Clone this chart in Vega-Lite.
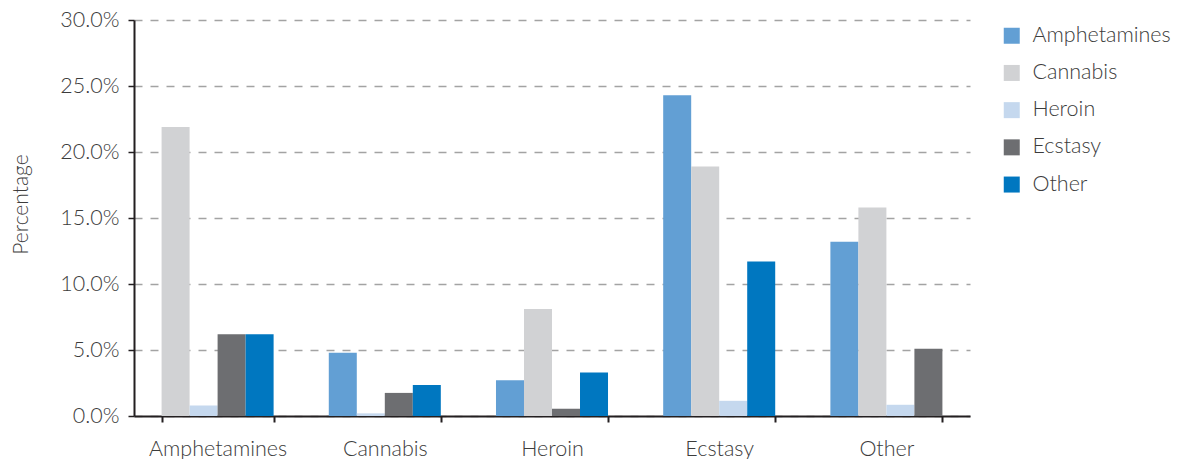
{
  "$schema": "https://vega.github.io/schema/vega-lite/v6.json",
  "width": 836,
  "height": 396,
  "autosize": {"type": "none"},
  "padding": {"left": 134, "top": 20, "right": 211, "bottom": 43},
  "background": "white",
  "config": {
    "font": "Lato",
    "view": {"stroke": null},
    "axis": {"labelFont": "Lato", "titleFont": "Lato", "labelFontWeight": 300, "titleFontWeight": 300, "labelColor": "#3c3c3c", "titleColor": "#3c3c3c"},
    "legend": {"labelFont": "Lato", "labelFontWeight": 300, "labelColor": "#3c3c3c"}
  },
  "data": {
    "values": [
      {"group": "Amphetamines", "drug": "Cannabis", "value": 0.219},
      {"group": "Amphetamines", "drug": "Heroin", "value": 0.008},
      {"group": "Amphetamines", "drug": "Ecstasy", "value": 0.062},
      {"group": "Amphetamines", "drug": "Other", "value": 0.062},
      {"group": "Cannabis", "drug": "Amphetamines", "value": 0.048},
      {"group": "Cannabis", "drug": "Heroin", "value": 0.002},
      {"group": "Cannabis", "drug": "Ecstasy", "value": 0.0175},
      {"group": "Cannabis", "drug": "Other", "value": 0.0235},
      {"group": "Heroin", "drug": "Amphetamines", "value": 0.027},
      {"group": "Heroin", "drug": "Cannabis", "value": 0.081},
      {"group": "Heroin", "drug": "Ecstasy", "value": 0.0055},
      {"group": "Heroin", "drug": "Other", "value": 0.033},
      {"group": "Ecstasy", "drug": "Amphetamines", "value": 0.243},
      {"group": "Ecstasy", "drug": "Cannabis", "value": 0.189},
      {"group": "Ecstasy", "drug": "Heroin", "value": 0.0115},
      {"group": "Ecstasy", "drug": "Other", "value": 0.117},
      {"group": "Other", "drug": "Amphetamines", "value": 0.132},
      {"group": "Other", "drug": "Cannabis", "value": 0.158},
      {"group": "Other", "drug": "Heroin", "value": 0.0085},
      {"group": "Other", "drug": "Ecstasy", "value": 0.051}
    ]
  },
  "transform": [
    {"window": [{"op": "row_number", "as": "slot"}], "groupby": ["group"]}
  ],
  "mark": {"type": "bar"},
  "encoding": {
    "x": {
      "field": "group",
      "type": "nominal",
      "sort": ["Amphetamines", "Cannabis", "Heroin", "Ecstasy", "Other"],
      "scale": {"paddingInner": 0.33, "paddingOuter": 0.165},
      "axis": {
        "title": null,
        "labelAngle": 0,
        "labelFontSize": 21.5,
        "labelPadding": 16,
        "tickBand": "extent",
        "tickSize": 6,
        "tickWidth": 2,
        "tickColor": "#231f20",
        "domainColor": "#231f20",
        "domainWidth": 2,
        "grid": false
      }
    },
    "xOffset": {"field": "slot", "type": "ordinal", "scale": {"paddingInner": 0, "paddingOuter": 0}},
    "y": {
      "field": "value",
      "type": "quantitative",
      "scale": {"domain": [0, 0.3], "nice": false},
      "axis": {
        "title": "Percentage",
        "titleFontSize": 21,
        "titlePadding": 28,
        "titleY": 184,
        "format": ".1%",
        "values": [0, 0.05, 0.1, 0.15, 0.2, 0.25, 0.3],
        "labelFontSize": 21.5,
        "labelPadding": 9,
        "tickSize": 6,
        "tickWidth": 1.5,
        "tickColor": "#231f20",
        "domainColor": "#231f20",
        "domainWidth": 2,
        "grid": true,
        "gridColor": "#a3a3a3",
        "gridDash": [8, 8],
        "gridWidth": 1.5
      }
    },
    "color": {
      "field": "drug",
      "type": "nominal",
      "scale": {
        "domain": ["Amphetamines", "Cannabis", "Heroin", "Ecstasy", "Other"],
        "range": ["#629fd4", "#d1d2d4", "#c5d8ee", "#6d6e71", "#0077c0"]
      },
      "legend": {
        "title": null,
        "orient": "none",
        "legendX": 867,
        "legendY": 5,
        "padding": 0,
        "symbolType": "square",
        "symbolSize": 256,
        "symbolStrokeWidth": 0,
        "labelFontSize": 21.5,
        "labelOffset": 10,
        "rowPadding": 14.2
      }
    }
  }
}
